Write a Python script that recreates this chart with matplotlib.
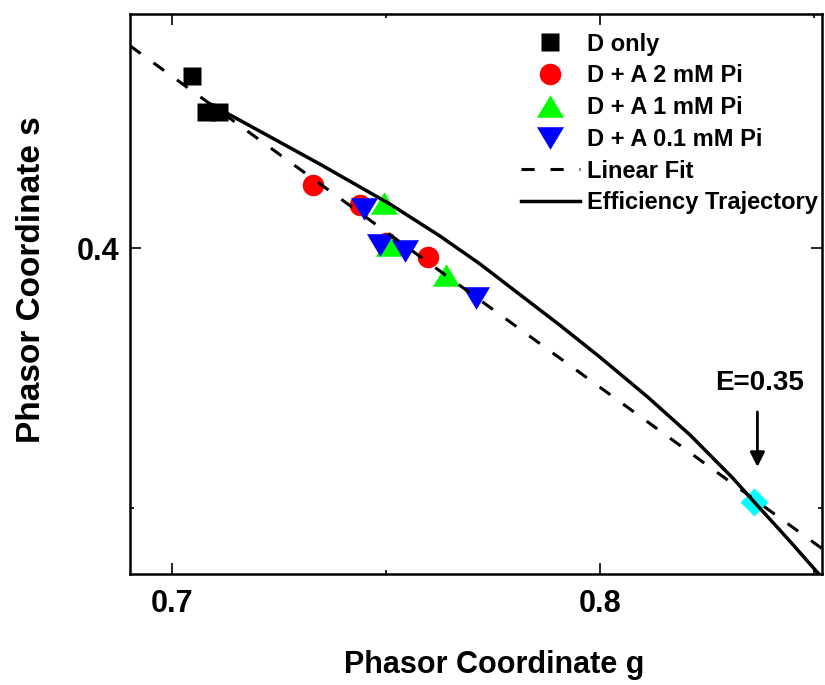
import matplotlib
matplotlib.use('Agg')
import matplotlib.pyplot as plt
from matplotlib.ticker import MultipleLocator, FormatStrFormatter
import numpy as np

plt.rcParams['font.family'] = ['Liberation Sans', 'DejaVu Sans']
plt.rcParams['font.weight'] = 'bold'

# ---------------- data ----------------
d_only_g = [0.7047, 0.7079, 0.7109]
d_only_s = [0.4331, 0.4262, 0.4262]

pi2_g = [0.7328, 0.7439, 0.7499, 0.7598]
pi2_s = [0.4122, 0.4083, 0.4010, 0.3983]

pi1_g = [0.7495, 0.7506, 0.7640]
pi1_s = [0.4088, 0.4006, 0.3949]

pi01_g = [0.7449, 0.7486, 0.7543, 0.7710]
pi01_s = [0.4076, 0.4006, 0.3995, 0.3905]

fit_slope = -0.5982
fit_intercept = 0.8518

traj_g = [0.7088, 0.7130, 0.7345, 0.7509, 0.7625, 0.7719, 0.7906,
          0.7999, 0.8111, 0.8210, 0.8310, 0.8359, 0.8443, 0.8518]
traj_s = [0.4278, 0.4259, 0.4162, 0.4085, 0.4024, 0.3970, 0.3852,
          0.3791, 0.3714, 0.3641, 0.3558, 0.3513, 0.3437, 0.3367]

e35_g = [0.8359]
e35_s = [0.3512]
e35_label = "E=0.35"

labels = ["D only", "D + A 2 mM Pi", "D + A 1 mM Pi", "D + A 0.1 mM Pi",
          "Linear Fit", "Efficiency Trajectory"]

# ---------------- figure ----------------
W, H = 825, 685
fig = plt.figure(figsize=(W / 100, H / 100), dpi=100)
ax = fig.add_axes([130 / W, 111 / H, 692 / W, 560 / H])
ax.set_xlim(0.6901, 0.8519)
ax.set_ylim(0.3373, 0.4451)

tri_up = [(-1.2, -1.0), (1.2, -1.0), (0.0, 1.0), (-1.2, -1.0)]
tri_dn = [(-1.2, 1.0), (1.2, 1.0), (0.0, -1.0), (-1.2, 1.0)]

h1, = ax.plot(d_only_g, d_only_s, ls='none', marker='s', ms=13.5,
              color='black', mec='none', zorder=2)
h2, = ax.plot(pi2_g, pi2_s, ls='none', marker='o', ms=15.5,
              color='#ff0000', mec='none', zorder=2)
h3, = ax.plot(pi1_g, pi1_s, ls='none', marker=tri_up, ms=19.5,
              color='#00ff00', mec='none', zorder=2)
h4, = ax.plot(pi01_g, pi01_s, ls='none', marker=tri_dn, ms=19.5,
              color='#0000ff', mec='none', zorder=2)
ax.plot(e35_g, e35_s, ls='none', marker='D', ms=14,
        color='#00ffff', mec='none', zorder=2)

gx = np.array(ax.get_xlim())
h5, = ax.plot(gx, fit_intercept + fit_slope * gx, color='black', lw=2.2,
              ls=(0, (4.3, 5.2)), dash_capstyle='butt', zorder=3)
h6, = ax.plot(traj_g, traj_s, color='black', lw=2.5, zorder=3,
              solid_joinstyle='round')

# arrow + label for E=0.35
ax.annotate('', xy=(e35_g[0] + 0.0009, e35_s[0] + 0.0067),
            xytext=(e35_g[0] + 0.0009, e35_s[0] + 0.0173),
            arrowprops=dict(arrowstyle='-|>', color='black', lw=2,
                            mutation_scale=22, shrinkA=0, shrinkB=0))
ax.text(e35_g[0] + 0.0014, e35_s[0] + 0.0229, e35_label, fontsize=20,
        fontweight='bold', ha='center', va='center')

# axes styling
for sp in ax.spines.values():
    sp.set_linewidth(1.8)
ax.xaxis.set_major_locator(MultipleLocator(0.1))
ax.xaxis.set_minor_locator(MultipleLocator(0.05))
ax.yaxis.set_major_locator(MultipleLocator(0.1))
ax.yaxis.set_minor_locator(MultipleLocator(0.05))
ax.xaxis.set_major_formatter(FormatStrFormatter('%.1f'))
ax.yaxis.set_major_formatter(FormatStrFormatter('%.1f'))
ax.tick_params(which='both', direction='in', top=True, right=True, width=1.2)
ax.tick_params(which='major', length=8, labelsize=22)
ax.tick_params(axis='x', which='major', pad=11)
ax.tick_params(axis='y', which='major', pad=8)
ax.tick_params(which='minor', length=3)

ax.set_xlabel('Phasor Coordinate g', fontsize=22, fontweight='bold')
ax.xaxis.set_label_coords(0.526, -0.136)
ax.set_ylabel('Phasor Coordinate s', fontsize=24, fontweight='bold')
ax.yaxis.set_label_coords(-0.12, 0.525)

leg = ax.legend([h1, h2, h3, h4, h5, h6], labels, loc='upper left',
                bbox_to_anchor=(520.7 / W, 1 - 32.7 / H),
                bbox_transform=fig.transFigure, frameon=False,
                fontsize=17, handlelength=2.5, handletextpad=0.3,
                labelspacing=0.37, borderpad=0, borderaxespad=0, numpoints=1)
for t in leg.get_texts():
    t.set_fontweight('bold')

fig.savefig('out.png', dpi=100)
